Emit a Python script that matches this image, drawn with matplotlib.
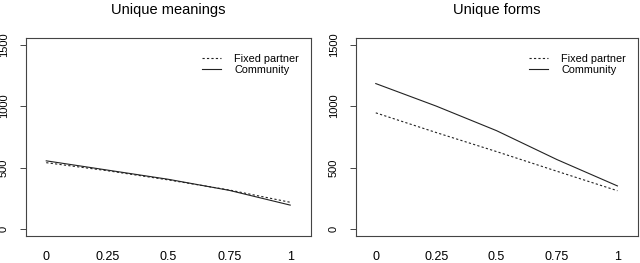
import numpy as np
import matplotlib
matplotlib.use("Agg")
import matplotlib.pyplot as plt

plt.rcParams['font.family'] = ['Liberation Sans', 'DejaVu Sans']

# valeurs
x_vals = [0, 0.25, 0.5, 0.75, 1]
x_labels = ["0", "0.25", "0.5", "0.75", "1"]
y_ticks = [0, 500, 1000, 1500]

meanings_fixed = [540, 475, 400, 318, 218]
meanings_community = [555, 480, 405, 315, 195]
forms_fixed = [945, 785, 630, 470, 312]
forms_community = [1183, 1000, 800, 565, 351]

panneaux = [
    ("Unique meanings", meanings_fixed, meanings_community, [0.0406, 0.1027, 0.4453, 0.754]),
    ("Unique forms", forms_fixed, forms_community, [0.5558, 0.1027, 0.441, 0.754]),
]

fig = plt.figure(figsize=(6.4, 2.63), dpi=100)

for titre, fixe, commu, pos in panneaux:
    ax = fig.add_axes(pos)
    ax.plot(x_vals, fixe, color="#222222", linewidth=0.8, linestyle=(0, (2, 2)), label="Fixed partner")
    ax.plot(x_vals, commu, color="#222222", linewidth=0.8, label="Community")
    ax.set_xlim(-0.083, 1.085)
    ax.set_ylim(-56, 1556)
    ax.set_xticks(x_vals)
    ax.set_xticklabels(x_labels)
    ax.set_yticks(y_ticks)
    ax.set_yticklabels([str(v) for v in y_ticks], rotation=90, va="center")
    ax.tick_params(axis="x", length=0, pad=10.5, labelsize=9)
    ax.tick_params(axis="y", length=4.3, width=0.7, pad=8, labelsize=8, color="#444444")
    for sp in ax.spines.values():
        sp.set_color("#444444")
        sp.set_linewidth(0.8)
    fig.text(pos[0] + pos[2] / 2, 1 - 10 / 263, titre, ha="center", va="center", fontsize=10.5)
    ax.legend(loc="upper right", bbox_to_anchor=(0.958, 0.92), frameon=False, fontsize=7.8,
              handlelength=1.75, handletextpad=1.2, labelspacing=0.15, borderpad=0, borderaxespad=0)

fig.savefig("out.png", dpi=100)
